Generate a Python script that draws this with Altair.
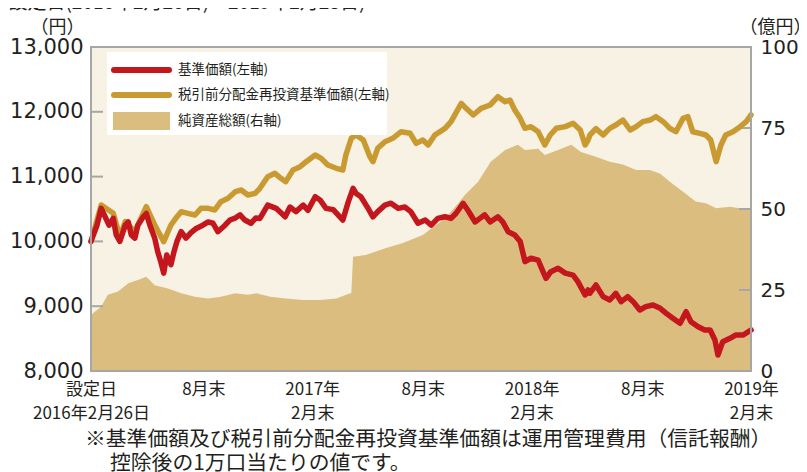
import json
import pandas as pd
import altair as alt

# ---------------- data ----------------
LAUNCH = "2016-02-26"

# 基準価額 (円) : days since launch / value
nav_days = [0, 10, 17, 22, 30, 37, 42, 48, 57, 62, 67, 73, 78, 87, 92, 98, 106, 111, 116, 121,
            126, 133, 138, 143, 150, 158, 166, 175, 186, 195, 203, 211, 223, 231, 240, 248, 256, 266, 274, 281,
            294, 308, 323, 331, 341, 353, 361, 373, 381, 391, 403, 411, 419, 428, 436, 441, 449, 461, 469, 477,
            489, 499, 511, 522, 532, 544, 556, 566, 577, 589, 599, 607, 619, 627, 639, 647, 655, 664, 677, 685,
            694, 705, 714, 722, 732, 744, 752, 757, 765, 777, 789, 802, 810, 822, 827, 830, 840, 852, 863, 873,
            882, 893, 902, 913, 923, 935, 947, 957, 968, 980, 990, 998, 1010, 1021, 1030, 1038, 1043, 1051, 1063, 1073,
            1085, 1098]
nav_values = [10000, 10250, 10510, 10410, 10250, 10356, 10100, 10000, 10250, 10300, 10100, 10050, 10250, 10380, 10430, 10250, 10050, 9840, 9690, 9510,
              9790, 9640, 9840, 10000, 10150, 10050, 10130, 10200, 10250, 10300, 10280, 10150, 10250, 10330, 10360, 10410, 10330, 10280, 10360, 10355,
              10560, 10510, 10380, 10530, 10460, 10560, 10480, 10690, 10640, 10510, 10490, 10410, 10330, 10610, 10819, 10740, 10690, 10510, 10380, 10460,
              10560, 10590, 10510, 10530, 10460, 10280, 10330, 10250, 10355, 10380, 10355, 10430, 10588, 10480, 10300, 10355, 10410, 10300, 10380, 10300,
              10150, 10100, 10000, 9687, 9740, 9710, 9533, 9430, 9533, 9585, 9510, 9480, 9380, 9173, 9250, 9200, 9327, 9148, 9096, 9199,
              9070, 9147, 9070, 8941, 8993, 9019, 8967, 8890, 8813, 8736, 8916, 8761, 8684, 8633, 8633, 8478, 8247, 8453, 8504, 8556,
              8556, 8633]

# 税引前分配金再投資基準価額 (円)
reinv_days = [0, 17, 37, 48, 57, 73, 92, 106, 121, 133,
              141, 150, 161, 173, 183, 195, 206, 216, 228, 240,
              250, 261, 273, 281, 294, 306, 316, 324, 336, 348,
              358, 373, 383, 394, 408, 419, 424, 433, 441, 453,
              464, 469, 477, 489, 502, 516, 531, 541, 552, 561,
              572, 589, 599, 616, 624, 636, 649, 664, 677, 689,
              697, 705, 714, 722, 732, 744, 755, 764, 774, 789,
              802, 814, 822, 827, 830, 840, 852, 863, 873, 885,
              897, 907, 918, 930, 940, 952, 963, 973, 985, 993,
              1001, 1013, 1023, 1031, 1040, 1048, 1056, 1068, 1080, 1090,
              1098]
reinv_values = [10000, 10562, 10433, 10073, 10304, 10150, 10536, 10253, 9996, 10253,
                10356, 10459, 10433, 10407, 10510, 10510, 10485, 10613, 10665, 10767,
                10793, 10716, 10742, 10819, 10999, 11051, 10973, 10922, 11102, 11153,
                11230, 11333, 11282, 11179, 11128, 11102, 11333, 11591, 11642, 11565,
                11308, 11230, 11436, 11539, 11591, 11693, 11668, 11513, 11565, 11488,
                11642, 11745, 11848, 12131, 12054, 11951, 12054, 12105, 12233, 12156,
                12182, 12028, 11899, 11745, 11771, 11693, 11488, 11642, 11745, 11771,
                11822, 11719, 11488, 11565, 11642, 11740, 11642, 11745, 11796, 11873,
                11719, 11771, 11848, 11873, 11925, 11848, 11745, 11693, 11899, 11925,
                11693, 11668, 11642, 11565, 11230, 11488, 11642, 11693, 11771, 11848,
                11951]

# 純資産総額 (億円)
aum_days = [0, 17, 28, 45, 62, 78, 92, 106, 128, 150,
            173, 195, 216, 240, 261, 275, 298, 324, 353, 381,
            408, 431, 433, 436, 457, 491, 519, 552, 566, 589,
            611, 622, 644, 665, 689, 710, 722, 744, 755, 777,
            799, 815, 840, 863, 885, 907, 930, 947, 963, 985,
            1006, 1023, 1040, 1063, 1098]
aum_values = [17.3, 19.9, 23.5, 24.5, 27.1, 28.1, 29.1, 26.5, 25.5, 24.0,
              22.9, 22.4, 22.9, 24.0, 23.5, 24.0, 22.9, 22.4, 21.9, 21.9,
              22.4, 24.0, 24.0, 35.3, 35.8, 38.0, 39.5, 42.0, 44.0, 47.1,
              51.8, 54.3, 58.4, 64.6, 68.2, 69.8, 68.2, 68.6, 66.7, 68.2,
              69.8, 67.6, 66.1, 64.6, 63.7, 62.0, 62.0, 60.9, 58.4, 55.3,
              52.3, 51.8, 50.2, 50.7, 49.7]

x_tick_dates = ["2016-02-26", "2016-08-31", "2017-02-28", "2017-08-31",
                "2018-02-28", "2018-08-31", "2019-02-28"]
x_tick_labels = [["設定日", "2016年2月26日"], ["8月末"], ["2017年", "2月末"], ["8月末"],
                 ["2018年", "2月末"], ["8月末"], ["2019年", "2月末"]]
left_ticks = [8000, 9000, 10000, 11000, 12000, 13000]
right_ticks = [0, 25, 50, 75, 100]
legend_labels = ["基準価額(左軸)", "税引前分配金再投資基準価額(左軸)", "純資産総額(右軸)"]
left_unit = "（円）"
right_unit = "（億円）"
period_note = "(設定日(2016年2月26日)～2019年2月28日)"
footnote_lines = ["※基準価額及び税引前分配金再投資基準価額は運用管理費用（信託報酬）",
                  "控除後の1万口当たりの値です。"]

# ---------------- styling ----------------
RED = "#c3161d"
GOLD = "#c99a31"
AREA = "#dcbd80"
BG = "#f7f2e3"
TICK = "#a6a6a6"
TEXT = "#231f20"
JP = "Noto Sans CJK JP"
NUM = "DejaVu Sans"
W, H = 660, 324

start = pd.Timestamp(LAUNCH)


def frame(days, values, name):
    return pd.DataFrame({"date": start + pd.to_timedelta(days, unit="D"), name: values})


nav_df = frame(nav_days, nav_values, "value")
reinv_df = frame(reinv_days, reinv_values, "value")
aum_df = frame(aum_days, aum_values, "aum")


def dt(s):
    y, m, d = (int(p) for p in s.split("-"))
    return alt.DateTime(year=y, month=m, date=d)


label_map = json.dumps(dict(zip(x_tick_dates, x_tick_labels)), ensure_ascii=False)
x_enc = alt.X(
    "date:T",
    scale=alt.Scale(domain=[dt(x_tick_dates[0]), dt(x_tick_dates[-1])]),
    axis=alt.Axis(values=[dt(s) for s in x_tick_dates],
                  labelExpr=f"{label_map}[timeFormat(datum.value, '%Y-%m-%d')]",
                  title=None, ticks=False, domain=False, grid=False,
                  labelFont=JP, labelFontSize=17, labelColor=TEXT, labelPadding=10,
                  labelLineHeight=24, labelAlign="center", labelOverlap=False,
                  labelBound=False, labelFlush=False),
)

y_left = alt.Y(
    "value:Q",
    scale=alt.Scale(domain=[left_ticks[0], left_ticks[-1]], nice=False, zero=False),
    axis=alt.Axis(values=left_ticks, format=",d", orient="left",
                  title=left_unit, titleAngle=0, titleX=-34, titleY=-20,
                  titleAlign="center", titleBaseline="middle", titleFont=JP,
                  titleFontSize=18, titleFontWeight="normal", titleColor=TEXT,
                  labelFont=NUM, labelFontSize=21, labelColor=TEXT, labelPadding=8,
                  ticks=False, domain=False, grid=False, labelFlush=False),
)

y_right = alt.Y(
    "aum:Q",
    scale=alt.Scale(domain=[right_ticks[0], right_ticks[-1]], nice=False),
    axis=alt.Axis(values=right_ticks, orient="right",
                  title=right_unit, titleAngle=0, titleX=24, titleY=-20,
                  titleAlign="center", titleBaseline="middle", titleFont=JP,
                  titleFontSize=18, titleFontWeight="normal", titleColor=TEXT,
                  labelFont=NUM, labelFontSize=20, labelColor=TEXT, labelPadding=9,
                  ticks=False, domain=False, grid=False, labelFlush=False),
)

# right-scale group: area + inner ticks
area = alt.Chart(aum_df).mark_area(color=AREA, opacity=1).encode(x=x_enc, y=y_right)
r_ticks = alt.Chart(pd.DataFrame({"aum": right_ticks[1:-1]})).mark_rule(
    color=TICK, strokeWidth=2).encode(y=y_right, x=alt.value(W - 12), x2=alt.value(W))
right_group = alt.layer(area, r_ticks)

# left-scale group: lines + inner ticks + legend + texts
l_ticks = alt.Chart(pd.DataFrame({"value": left_ticks[1:-1]})).mark_rule(
    color=TICK, strokeWidth=2).encode(y=y_left, x=alt.value(0), x2=alt.value(12))
gold = alt.Chart(reinv_df).mark_line(color=GOLD, strokeWidth=5.5, strokeJoin="round",
                                      strokeCap="round").encode(x=x_enc, y=y_left)
red = alt.Chart(nav_df).mark_line(color=RED, strokeWidth=5.5, strokeJoin="round",
                                   strokeCap="round").encode(x=x_enc, y=y_left)

one = pd.DataFrame({"k": [0]})
border = alt.Chart(one).mark_rect(fillOpacity=0, stroke=TICK, strokeWidth=2).encode(
    x=alt.value(0), x2=alt.value(W), y=alt.value(0), y2=alt.value(H))

leg_box = alt.Chart(one).mark_rect(fill="white").encode(
    x=alt.value(16), x2=alt.value(296), y=alt.value(5), y2=alt.value(88))
leg_red = alt.Chart(one).mark_rule(color=RED, strokeWidth=6, strokeCap="round").encode(
    x=alt.value(23), x2=alt.value(78), y=alt.value(23))
leg_gold = alt.Chart(one).mark_rule(color=GOLD, strokeWidth=6, strokeCap="round").encode(
    x=alt.value(23), x2=alt.value(78), y=alt.value(48))
leg_area = alt.Chart(one).mark_rect(fill=AREA).encode(
    x=alt.value(22), x2=alt.value(79), y=alt.value(65), y2=alt.value(83))


def text(txt, x, y, size, baseline="middle"):
    return alt.Chart(pd.DataFrame({"t": [txt]})).mark_text(
        align="left", baseline=baseline, font=JP, fontSize=size, color=TEXT
    ).encode(x=alt.value(x), y=alt.value(y), text="t:N")


leg_texts = [text(legend_labels[0], 87, 23, 13.5),
             text(legend_labels[1], 87, 48, 13.5),
             text(legend_labels[2], 87, 74, 13.5)]
notes = [text(footnote_lines[0], -6, 393, 20.8),
         text(footnote_lines[1], 19, 417, 20.8),
         text(period_note, -89, -38, 19, baseline="alphabetic")]

left_group = alt.layer(l_ticks, gold, red, border, leg_box, leg_red, leg_gold, leg_area,
                       *leg_texts, *notes)

chart = alt.layer(right_group, left_group).resolve_scale(y="independent").properties(
    width=W, height=H,
    autosize=alt.AutoSizeParams(type="none"),
    padding={"left": 83, "top": 39, "right": 48, "bottom": 101},
    background="white",
).configure_view(fill=BG, stroke=None)

chart.save("out.html", embed_options={"renderer": "svg", "actions": False})
